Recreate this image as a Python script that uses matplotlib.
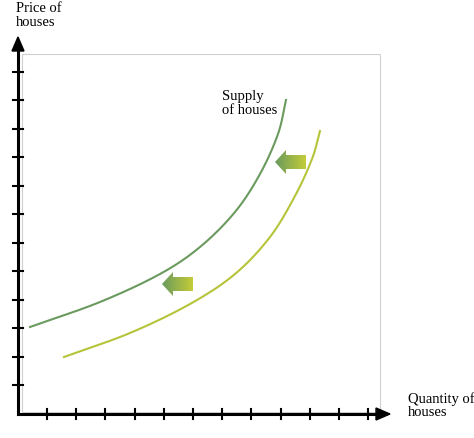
import numpy as np
import matplotlib
matplotlib.use("Agg")
import matplotlib.pyplot as plt
from matplotlib.patches import Polygon, Rectangle
from matplotlib.colors import LinearSegmentedColormap

# Curve points (pixel-like coordinates, y down)
supply_x = [30, 100, 160, 200, 235, 260, 278, 286]
supply_y = [328, 303, 275, 248, 213, 175, 135, 101]
new_x = [64, 130, 190, 235, 270, 295, 312, 320]
new_y = [358, 334, 305, 275, 238, 197, 160, 132]
arrows = [(275, 163), (162, 285)]  # tip positions
xlabel = "Quantity of\nhouses"
ylabel = "Price of\nhouses"
curve_label = "Supply\nof houses"


def smooth(xs, ys, n=30):
    p = np.column_stack([xs, ys]).astype(float)
    p = np.vstack([2 * p[0] - p[1], p, 2 * p[-1] - p[-2]])
    out = []
    for i in range(1, len(p) - 2):
        p0, p1, p2, p3 = p[i - 1], p[i], p[i + 1], p[i + 2]
        for t in np.linspace(0, 1, n, endpoint=False):
            out.append(0.5 * ((2 * p1) + (-p0 + p2) * t + (2 * p0 - 5 * p1 + 4 * p2 - p3) * t ** 2
                              + (-p0 + 3 * p1 - 3 * p2 + p3) * t ** 3))
    out.append(p[-2])
    out = np.array(out)
    return out[:, 0], out[:, 1]


fig = plt.figure(figsize=(4.74, 4.39), dpi=100)
ax = fig.add_axes([0, 0, 1, 1])
ax.set_xlim(0, 474); ax.set_ylim(439, 0); ax.axis('off')

ax.add_patch(Rectangle((22, 55), 358, 358, fill=False, ec='#d0d0d0', lw=0.8))
ax.plot([18, 18], [415, 48], color='black', lw=2.2)
ax.plot([18, 380], [415, 415], color='black', lw=2.2)
ax.add_patch(Polygon([[12, 52], [24, 52], [18, 38]], color='black'))
ax.add_patch(Polygon([[376, 409], [376, 421], [390, 415]], color='black'))
for i in range(12):
    x = 47 + i * 29.2
    ax.plot([x, x], [410, 420], color='black', lw=1.5)
for i in range(12):
    y = 386 - i * 28.5
    ax.plot([13, 23], [y, y], color='black', lw=1.5)

sx, sy = smooth(supply_x, supply_y)
nx, ny = smooth(new_x, new_y)
ax.plot(sx, sy, color='#6a9a5e', lw=1.5)
ax.plot(nx, ny, color='#b6c43a', lw=1.5)

cmap = LinearSegmentedColormap.from_list('g', ['#6a9a5e', '#c4cc38'])
grad = np.linspace(0, 1, 100).reshape(1, -1)
for tx, ty in arrows:
    poly = Polygon([[tx, ty], [tx + 11, ty - 12], [tx + 11, ty - 7], [tx + 31, ty - 7],
                    [tx + 31, ty + 7], [tx + 11, ty + 7], [tx + 11, ty + 12]],
                   closed=True, fc='none', ec='none')
    ax.add_patch(poly)
    im = ax.imshow(grad, cmap=cmap, extent=[tx, tx + 31, ty + 12, ty - 12], aspect='auto')
    im.set_clip_path(poly)
ax.set_xlim(0, 474); ax.set_ylim(439, 0)

font = dict(family='Liberation Serif', fontsize=10.5)
ax.text(16, 2, ylabel, va='top', ha='left', linespacing=1.05, **font)
ax.text(408, 392, xlabel, va='top', ha='left', linespacing=1.05, **font)
ax.text(222, 90, curve_label, va='top', ha='left', linespacing=1.05, **font)

fig.savefig('out.png', dpi=100)
